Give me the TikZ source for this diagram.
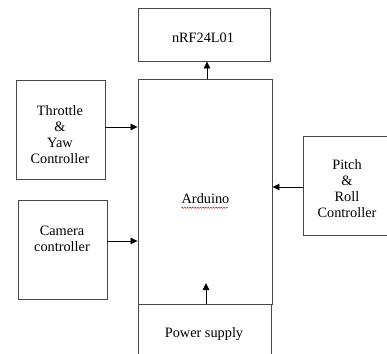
\documentclass[tikz,border=0pt]{standalone}
\usepackage{fontspec}
\setmainfont{Liberation Serif}
\usetikzlibrary{arrows.meta,decorations.pathmorphing}
\begin{document}
\begin{tikzpicture}[x=1pt,y=-1pt,
  blk/.style={draw=black!72,line width=0.9pt,inner sep=0pt,rectangle},
  lbl/.style={align=center,font=\fontsize{14.3}{16}\selectfont,inner sep=0pt},
  arr/.style={draw=black,line width=0.85pt,-{Triangle[length=7pt,width=6.5pt]}}]
\useasboundingbox (0,0) rectangle (387,353);
\clip (0,0) rectangle (387,353);
% boxes
\node[blk,minimum width=132,minimum height=53] (nrf) at (204,34.5) {};
\node[blk,minimum width=134,minimum height=225] (ard) at (205,191.5) {};
\node[blk,minimum width=133,minimum height=62] (pwr) at (204.5,335) {};
\node[blk,minimum width=89,minimum height=99] (thr) at (60.5,129.5) {};
\node[blk,minimum width=89,minimum height=99] (cam) at (62.5,249.5) {};
\node[blk,minimum width=90,minimum height=99] (pit) at (348,185.5) {};
% texts
\node[lbl] (nrft) at (203,38) {nRF24L01};
\node[lbl] (ardt) at (205.5,199) {Arduino};
\node[lbl] (pwrt) at (204,334) {Power supply};
\node[lbl] (thrt) at (60,135) {Throttle\\\&\\Yaw\\Controller};
\node[lbl] (camt) at (62,239) {Camera\\controller};
\node[lbl] (pitt) at (347,189) {Pitch\\\&\\Roll\\Controller};
% spell-check squiggle
\draw[red!80!black,line width=0.4pt,decorate,decoration={snake,amplitude=0.7pt,segment length=2.6pt}]
  (ardt.south west) ++(0,3.5) -- ++(47,0);
% arrows
\draw[arr] (ard.north -| 207,0) -- (nrf.south -| 207,0);
\draw[arr] (thr.east |- 0,127) -- (ard.west |- 0,127);
\draw[arr] (cam.east |- 0,241) -- (ard.west |- 0,241);
\draw[arr] (pit.west |- 0,187) -- (ard.east |- 0,187);
\coordinate (pin) at (206,283);
\draw[arr] (pwr.north -| pin) -- (pin);
\end{tikzpicture}
\end{document}
